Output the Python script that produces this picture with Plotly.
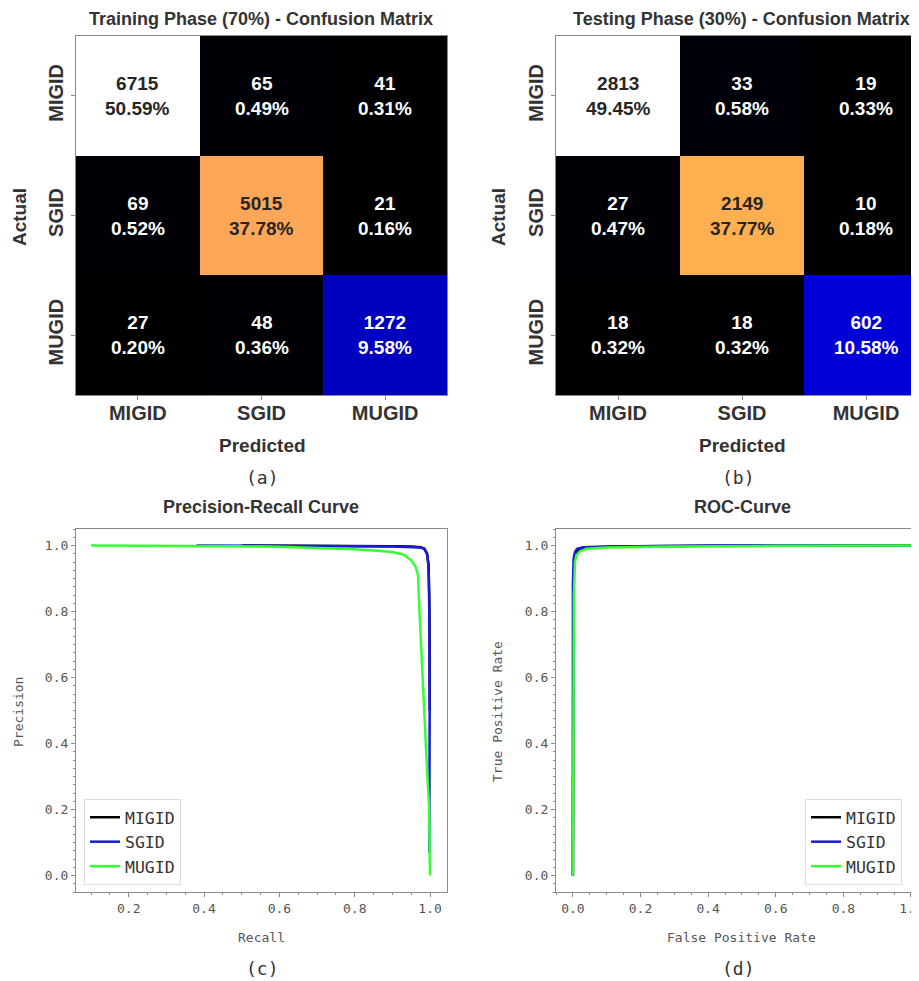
import plotly.graph_objects as go

# ---------------- data ----------------
classes = ["MIGID", "SGID", "MUGID"]
train_cm = [[6715, 65, 41],
            [69, 5015, 21],
            [27, 48, 1272]]
test_cm = [[2813, 33, 19],
           [27, 2149, 10],
           [18, 18, 602]]

# Precision-Recall curves (recall, precision)
pr_migid_recall = [0.50, 0.60, 0.70, 0.80, 0.90, 0.95, 0.975, 0.985, 0.992, 0.996, 0.998, 0.999, 0.999]
pr_migid_prec = [1.000, 1.000, 1.000, 0.999, 0.998, 0.997, 0.995, 0.99, 0.975, 0.94, 0.85, 0.70, 0.50]
pr_sgid_recall = [0.38, 0.50, 0.60, 0.70, 0.80, 0.90, 0.95, 0.975, 0.985, 0.992, 0.996, 0.998, 0.999, 0.999, 0.998]
pr_sgid_prec = [1.000, 1.000, 1.000, 0.999, 0.998, 0.997, 0.996, 0.994, 0.99, 0.975, 0.94, 0.80, 0.50, 0.25, 0.07]
pr_mugid_recall = [0.10, 0.20, 0.30, 0.40, 0.50, 0.60, 0.70, 0.80, 0.85, 0.90, 0.93, 0.95, 0.962, 0.968, 0.972, 0.977, 0.985, 0.992, 0.997, 0.999, 1.0]
pr_mugid_prec = [1.000, 1.000, 1.000, 1.000, 0.998, 0.996, 0.993, 0.989, 0.985, 0.980, 0.972, 0.955, 0.935, 0.91, 0.80, 0.67, 0.48, 0.32, 0.22, 0.12, 0.0]

# ROC curves (fpr, tpr)
roc_migid_fpr = [0.0, 0.0, 0.002, 0.005, 0.01, 0.02, 0.04, 0.10, 0.20, 0.40, 0.60, 1.0]
roc_migid_tpr = [0.0, 0.60, 0.90, 0.96, 0.98, 0.99, 0.993, 0.996, 0.998, 0.999, 1.0, 1.0]
roc_sgid_fpr = [0.0, -0.001, 0.0, 0.002, 0.006, 0.012, 0.03, 0.10, 0.44, 1.0]
roc_sgid_tpr = [0.0, 0.53, 0.88, 0.96, 0.98, 0.99, 0.995, 0.997, 1.0, 1.0]
roc_mugid_fpr = [0.0, 0.001, 0.003, 0.006, 0.01, 0.02, 0.04, 0.10, 0.30, 0.60, 1.0]
roc_mugid_tpr = [0.0, 0.50, 0.85, 0.95, 0.97, 0.982, 0.99, 0.994, 0.997, 0.999, 1.0]

line_colors = ["#000000", "#1a1adb", "#33ff33"]

# ---------------- layout helpers ----------------
OFF = 8                      # page body margin
W, H = 919 - OFF, 981 - OFF


def px(x):
    return (x - OFF) / W


def py(y):
    return 1 - (y - OFF) / H


SANS = "Liberation Sans, Arial, sans-serif"
TITLE_FONT = dict(family=SANS, size=18, color="#333333", weight="bold")
MONO = "DejaVu Sans Mono, monospace"
GRAY = "#8a8a8a"

# gnuplot2 colormap (piecewise linear)
gnuplot2 = [[0.0, "rgb(0,0,0)"], [0.25, "rgb(0,0,255)"], [0.42, "rgb(135,0,255)"],
            [0.57, "rgb(255,77,179)"], [0.92, "rgb(255,255,0)"], [1.0, "rgb(255,255,255)"]]

fig = go.Figure()
annotations = []


def add_cm(cm, xa, ya):
    fig.add_trace(go.Heatmap(z=cm, x=classes, y=classes, colorscale=gnuplot2,
                             showscale=False, xaxis=xa, yaxis=ya, hoverinfo="skip"))
    total = sum(sum(r) for r in cm)
    vals = [v for r in cm for v in r]
    vmin, vmax = min(vals), max(vals)
    for i, row in enumerate(cm):
        for j, v in enumerate(row):
            norm = (v - vmin) / (vmax - vmin)
            col = "#262626" if norm > 0.5 else "#ffffff"
            annotations.append(dict(
                x=classes[j], y=classes[i], xref=xa, yref=ya,
                text=f"{v}<br>{v / total * 100:.2f}%", showarrow=False,
                font=dict(family=SANS, size=19, color=col, weight="bold")))


add_cm(train_cm, "x", "y")
add_cm(test_cm, "x2", "y2")

names = classes
pr_data = [(pr_migid_recall, pr_migid_prec), (pr_sgid_recall, pr_sgid_prec), (pr_mugid_recall, pr_mugid_prec)]
roc_data = [(roc_migid_fpr, roc_migid_tpr), (roc_sgid_fpr, roc_sgid_tpr), (roc_mugid_fpr, roc_mugid_tpr)]
for k, (xs, ys) in enumerate(pr_data):
    fig.add_trace(go.Scatter(x=xs, y=ys, mode="lines", name=names[k],
                             line=dict(color=line_colors[k], width=2.5),
                             xaxis="x3", yaxis="y3", legend="legend",
                             legendgroup=f"pr{k}"))
for k, (xs, ys) in enumerate(roc_data):
    fig.add_trace(go.Scatter(x=xs, y=ys, mode="lines", name=names[k],
                             line=dict(color=line_colors[k], width=2.5),
                             xaxis="x4", yaxis="y4", legend="legend2",
                             legendgroup=f"roc{k}"))

cm_top, cm_bot = py(36), py(395)
cur_top, cur_bot = py(529), py(892)
left_dom = [px(76), px(447)]
right_dom = [px(556), 1.0]

cm_tickfont = dict(family=SANS, size=20, color="#333333", weight="bold")
cm_x_common = dict(showline=True, linecolor=GRAY, linewidth=1, mirror=True, ticks="outside",
                   ticklen=4, tickcolor=GRAY, showgrid=False, zeroline=False,
                   tickfont=cm_tickfont, automargin=False, fixedrange=True,
                   ticklabeloverflow="allow", ticklabelstandoff=-4)
cm_y_common = dict(showline=True, linecolor=GRAY, linewidth=1, ticks="outside",
                   ticklen=4, tickcolor=GRAY, showgrid=False, zeroline=False, tickangle=-90,
                   tickfont=cm_tickfont, automargin=False, fixedrange=True,
                   ticklabeloverflow="allow")

cur_x_common = dict(showline=True, linecolor=GRAY, linewidth=1.2, mirror=True, ticks="outside",
                    ticklen=4, tickcolor=GRAY, showgrid=False, zeroline=False, dtick=0.2, tick0=0,
                    tickformat=".1f", ticklabeloverflow="allow",
                    minor=dict(ticks="outside", ticklen=2, dtick=0.05, tick0=0, tickcolor=GRAY),
                    tickfont=dict(family=MONO, size=13, color="#555555"), automargin=False)
cur_y_common = dict(showline=True, linecolor=GRAY, linewidth=1.2, ticks="outside",
                    ticklen=4, tickcolor=GRAY, showgrid=False, zeroline=False, dtick=0.2, tick0=0,
                    tickformat=".1f", range=[-0.05, 1.05], ticklabeloverflow="allow",
                    minor=dict(ticks="outside", ticklen=2, dtick=0.025, tick0=0, tickcolor=GRAY),
                    tickfont=dict(family=MONO, size=13, color="#555555"), automargin=False)

fig.update_layout(
    width=W, height=H, margin=dict(l=0, r=0, t=0, b=0),
    paper_bgcolor="white", plot_bgcolor="white",
    xaxis=dict(domain=left_dom, anchor="y", range=[-0.5, 2.5], **cm_x_common),
    yaxis=dict(domain=[cm_bot, cm_top], anchor="x", range=[2.5, -0.5], mirror=True, **cm_y_common),
    xaxis2=dict(domain=right_dom, anchor="y2", range=[-0.5, 2.427], **cm_x_common),
    yaxis2=dict(domain=[cm_bot, cm_top], anchor="x2", range=[2.5, -0.5], **cm_y_common),
    xaxis3=dict(domain=left_dom, anchor="y3", range=[0.06, 1.045], **cur_x_common),
    yaxis3=dict(domain=[cur_bot, cur_top], anchor="x3", mirror=True, **cur_y_common),
    xaxis4=dict(domain=right_dom, anchor="y4", range=[-0.05, 1.0237], **cur_x_common),
    yaxis4=dict(domain=[cur_bot, cur_top], anchor="x4", **cur_y_common),
    legend=dict(x=px(84), y=py(799), xanchor="left", yanchor="top",
                bgcolor="white", bordercolor="#dddddd", borderwidth=1,
                font=dict(family=MONO, size=16.5, color="#333333"),
                traceorder="grouped", tracegroupgap=0),
    legend2=dict(x=px(805), y=py(799), xanchor="left", yanchor="top",
                 bgcolor="white", bordercolor="#dddddd", borderwidth=1,
                 font=dict(family=MONO, size=16.5, color="#333333"),
                 traceorder="grouped", tracegroupgap=0),
    showlegend=True,
)


def text_ann(x, y, text, font, angle=0):
    annotations.append(dict(x=px(x), y=py(y), xref="paper", yref="paper", text=text,
                            showarrow=False, font=font, textangle=angle,
                            xanchor="center", yanchor="middle"))


bold_lab = dict(family=SANS, size=19, color="#333333", weight="bold")
mono_lab = dict(family=MONO, size=13, color="#555555")
cap_font = dict(family=MONO, size=18, color="#333333")

text_ann(261, 19, "Training Phase (70%) - Confusion Matrix", TITLE_FONT)
text_ann(741, 19, "Testing Phase (30%) - Confusion Matrix", TITLE_FONT)
text_ann(20, 217, "Actual", bold_lab, -90)
text_ann(499, 217, "Actual", bold_lab, -90)
text_ann(262, 445, "Predicted", bold_lab)
text_ann(742, 445, "Predicted", bold_lab)
text_ann(262, 478, "(a)", cap_font)
text_ann(738, 478, "(b)", cap_font)

text_ann(261, 507, "Precision-Recall Curve", TITLE_FONT)
text_ann(742, 507, "ROC-Curve", TITLE_FONT)
text_ann(261, 937, "Recall", mono_lab)
text_ann(741, 937, "False Positive Rate", mono_lab)
text_ann(18, 712, "Precision", mono_lab, -90)
text_ann(497, 712, "True Positive Rate", mono_lab, -90)
text_ann(262, 968, "(c)", cap_font)
text_ann(738, 968, "(d)", cap_font)

fig.update_layout(annotations=annotations)
fig.write_html("out.html")
